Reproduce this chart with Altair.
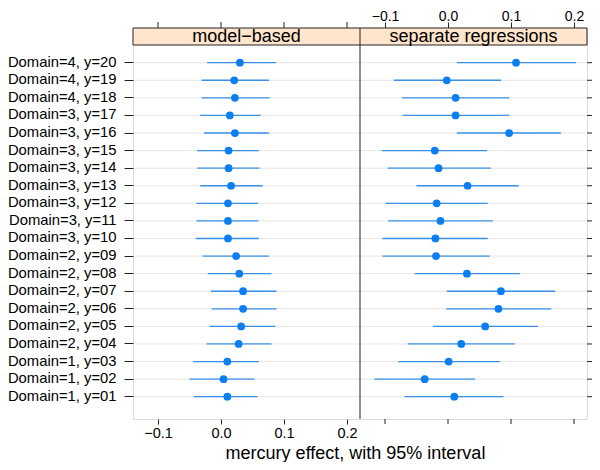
import altair as alt
import pandas as pd

# ---- data ----
labels = ["Domain=1, y=01", "Domain=1, y=02", "Domain=1, y=03",
          "Domain=2, y=04", "Domain=2, y=05", "Domain=2, y=06", "Domain=2, y=07",
          "Domain=2, y=08", "Domain=2, y=09",
          "Domain=3, y=10", "Domain=3, y=11", "Domain=3, y=12", "Domain=3, y=13",
          "Domain=3, y=14", "Domain=3, y=15", "Domain=3, y=16", "Domain=3, y=17",
          "Domain=4, y=18", "Domain=4, y=19", "Domain=4, y=20"]

model_est = [0.010, 0.004, 0.010, 0.028, 0.032, 0.035, 0.035, 0.029, 0.024,
             0.011, 0.011, 0.011, 0.016, 0.012, 0.012, 0.022, 0.014,
             0.022, 0.021, 0.030]
model_lo = [-0.043, -0.050, -0.044, -0.023, -0.018, -0.015, -0.016, -0.021, -0.029,
            -0.040, -0.039, -0.039, -0.033, -0.038, -0.038, -0.027, -0.033,
            -0.031, -0.031, -0.022]
model_hi = [0.058, 0.053, 0.060, 0.080, 0.086, 0.088, 0.088, 0.080, 0.076,
            0.060, 0.059, 0.059, 0.066, 0.061, 0.060, 0.076, 0.063,
            0.077, 0.076, 0.087]

sep_est = [0.010, -0.037, 0.001, 0.021, 0.059, 0.080, 0.084, 0.030, -0.019,
           -0.020, -0.012, -0.018, 0.031, -0.015, -0.021, 0.097, 0.012,
           0.012, -0.002, 0.108]
sep_lo = [-0.069, -0.117, -0.079, -0.064, -0.024, -0.003, -0.002, -0.053, -0.104,
          -0.104, -0.095, -0.099, -0.050, -0.096, -0.105, 0.014, -0.072,
          -0.073, -0.086, 0.014]
sep_hi = [0.088, 0.043, 0.082, 0.106, 0.143, 0.164, 0.170, 0.114, 0.066,
          0.063, 0.071, 0.063, 0.112, 0.068, 0.062, 0.179, 0.097,
          0.097, 0.084, 0.203]

panels = ["model\u2212based", "separate regressions"]
x_ticks = [-0.1, 0.0, 0.1, 0.2]
x_title = "mercury effect, with 95% interval"

df_model = pd.DataFrame({"label": labels, "est": model_est, "lo": model_lo, "hi": model_hi})
df_sep = pd.DataFrame({"label": labels, "est": sep_est, "lo": sep_lo, "hi": sep_hi})
df_ticks = pd.DataFrame({"t": x_ticks})

# ---- layout constants ----
PW = 227
W = 2 * PW
H = 391
STRIP = 17
FONT = "Liberation Sans"
LINE_COL = "#3b8fe6"
PT_COL = "#0b7ff2"
AX_COL = "#222222"

order = labels[::-1]  # top to bottom
yscale = alt.Scale(type="band", domain=order, range=[25.9, 377.5], padding=0)
xdom = [-0.1397, 0.2206]
xs_left = alt.Scale(domain=xdom, range=[0, PW], nice=False, zero=False)
xs_right = alt.Scale(domain=xdom, range=[PW, W], nice=False, zero=False)

one = pd.DataFrame({"a": [0]})

strip = alt.Chart(one).mark_rect(fill="#ffe5cc", stroke=AX_COL, strokeWidth=1).encode(
    x=alt.value(0), x2=alt.value(W), y=alt.value(0), y2=alt.value(STRIP))

y_left_axis = alt.Axis(orient="left", title=None, domain=False, grid=False,
                       tickSize=9, labelPadding=8, labelFontSize=14.8,
                       labelFont=FONT, labelColor="black", tickColor=AX_COL)

gray = alt.Chart(df_model).mark_rule(color="#e6e6e6", strokeWidth=1).encode(
    x=alt.value(1), x2=alt.value(W - 1),
    y=alt.Y("label:N", scale=yscale, axis=y_left_axis, sort=order))

# right-hand tick marks (lattice alternating axes), placed by the shared y scale
right_ticks = alt.Chart(df_sep).mark_rule(color=AX_COL, strokeWidth=1).encode(
    x=alt.value(W), x2=alt.value(W + 5),
    y=alt.Y("label:N", scale=yscale, axis=None, sort=order))

ax_left = alt.Axis(orient="bottom", values=x_ticks, format=".1f", domain=False, grid=False,
                   tickSize=5, labelPadding=2, labelFontSize=14.5, labelFont=FONT,
                   labelColor="black", tickColor=AX_COL,
                   title=x_title, titleFont=FONT, titleFontSize=18, titleFontWeight="normal",
                   titleColor="black", titleX=222, titleY=39, titleBaseline="alphabetic")

left_bars = alt.Chart(df_model).mark_rule(color=LINE_COL, strokeWidth=1.3).encode(
    x=alt.X("lo:Q", scale=xs_left, axis=ax_left), x2="hi:Q",
    y=alt.Y("label:N", scale=yscale, axis=None, sort=order))
left_pts = alt.Chart(df_model).mark_circle(color=PT_COL, opacity=1, size=60).encode(
    x=alt.X("est:Q", scale=xs_left, axis=ax_left),
    y=alt.Y("label:N", scale=yscale, axis=None, sort=order))
left = alt.layer(left_bars, left_pts)

ax_right = alt.Axis(orient="top", values=x_ticks, format=".1f", domain=False, grid=False,
                    tickSize=6, labelPadding=2, labelFontSize=14, labelFont=FONT,
                    labelBaseline="alphabetic",
                    labelColor="black", tickColor=AX_COL, title=None)

right_bars = alt.Chart(df_sep).mark_rule(color=LINE_COL, strokeWidth=1.3).encode(
    x=alt.X("lo:Q", scale=xs_right, axis=ax_right), x2="hi:Q",
    y=alt.Y("label:N", scale=yscale, axis=None, sort=order))
right_pts = alt.Chart(df_sep).mark_circle(color=PT_COL, opacity=1, size=60).encode(
    x=alt.X("est:Q", scale=xs_right, axis=ax_right),
    y=alt.Y("label:N", scale=yscale, axis=None, sort=order))
right = alt.layer(right_bars, right_pts)

# tick-only x axes (lattice alternating axes), positioned by the panel x scales
left_top = alt.Chart(df_ticks).mark_rule(color=AX_COL, strokeWidth=1).encode(
    x=alt.X("t:Q", scale=xs_left, axis=None),
    y=alt.value(-6), y2=alt.value(0))
right_bottom = alt.Chart(df_ticks).mark_rule(color=AX_COL, strokeWidth=1).encode(
    x=alt.X("t:Q", scale=xs_right, axis=None),
    y=alt.value(H), y2=alt.value(H + 5))

divider = alt.Chart(one).mark_rule(color=AX_COL, strokeWidth=1).encode(
    x=alt.value(PW), y=alt.value(0), y2=alt.value(H))

strip_text_l = alt.Chart(one).mark_text(font=FONT, fontSize=18, color="black",
                                        baseline="middle", align="center").encode(
    x=alt.value(PW / 2), y=alt.value(STRIP / 2 + 0.5), text=alt.value(panels[0]))
strip_text_r = alt.Chart(one).mark_text(font=FONT, fontSize=18, color="black",
                                        baseline="middle", align="center").encode(
    x=alt.value(PW + PW / 2), y=alt.value(STRIP / 2 + 0.5), text=alt.value(panels[1]))

chart = alt.layer(
    gray, right_ticks, left, right, strip, divider, strip_text_l, strip_text_r,
    left_top, right_bottom
).resolve_scale(x="independent", y="independent").properties(
    width=W, height=H,
    autosize=alt.AutoSizeParams(type="none"),
    padding={"left": 125, "top": 20, "right": 5, "bottom": 43},
).configure_view(stroke=AX_COL, strokeWidth=1).configure(background="white")

chart.save("out.html", embed_options={"renderer": "svg", "actions": False})
